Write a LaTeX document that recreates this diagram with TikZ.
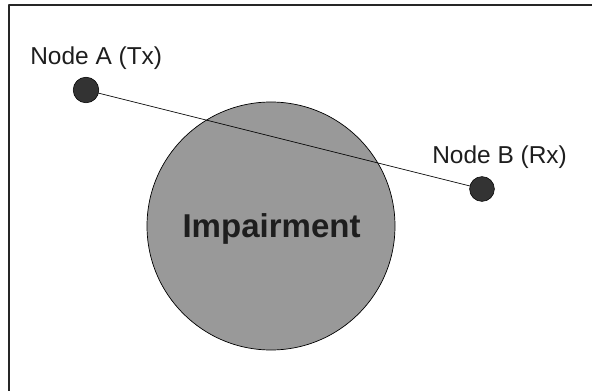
\documentclass[tikz,border=0pt]{standalone}
\usepackage{fontspec}
\setmainfont{Liberation Sans}
\usetikzlibrary{positioning}

\definecolor{nodegray}{HTML}{333333}
\definecolor{zonegray}{HTML}{999999}
\definecolor{textgray}{HTML}{1E1E1E}

\tikzset{
  station/.style={circle, draw=black, fill=nodegray, line width=0.4pt, minimum size=0.64cm, inner sep=0pt},
  zone/.style={circle, draw=black, fill=zonegray, line width=0.5pt, minimum size=6.2cm, inner sep=0pt},
  tag/.style={text=textgray, font=\fontsize{17.4}{20}\selectfont, inner sep=0pt},
}

\begin{document}
\begin{tikzpicture}[line join=round, line cap=round]
	\useasboundingbox (0,0) rectangle (14.8,9.75);
	\begin{scope}
		\clip (0,0) rectangle (14.8,9.75);
		\draw [line width=1.4pt, black!85] (0.225,-1) rectangle (16,9.625);
	\end{scope}
	% obstacle between the two stations
	\node[zone] (impair) at (6.775,4.1) {};
	\node[text=textgray, font=\fontsize{23.5}{26}\selectfont\bfseries, anchor=base] (impairlbl) at (6.79,3.8) {Impairment};
	% stations and the link
	\coordinate (ta) at (2.15,7.5);
	\coordinate (rb) at (12.05,5.025);
	\draw [line width=0.5pt] (ta) -- (rb);
	\node[station] (tx) at (ta) {};
	\node[station, minimum size=0.62cm] (rx) at (rb) {};
	\node[tag, anchor=base west] (txlbl) at (0.75,8.125) {Node A (Tx)};
	\node[tag, anchor=base west] (rxlbl) at (10.8,5.65) {Node B (Rx)};
\end{tikzpicture}
\end{document}
